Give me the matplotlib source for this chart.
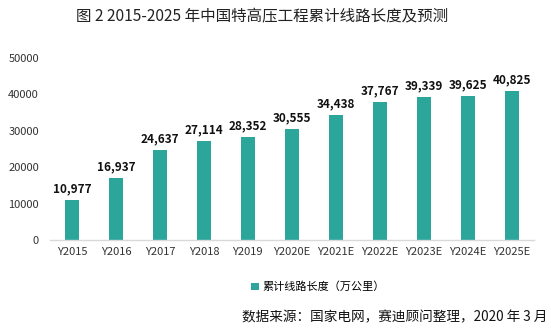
import matplotlib.pyplot as plt

plt.rcParams['font.family'] = ['Noto Sans CJK SC', 'DejaVu Sans']

years = ["Y2015", "Y2016", "Y2017", "Y2018", "Y2019", "Y2020E", "Y2021E",
         "Y2022E", "Y2023E", "Y2024E", "Y2025E"]
lengths = [10977, 16937, 24637, 27114, 28352, 30555, 34438, 37767, 39339, 39625, 40825]
yticks = [0, 10000, 20000, 30000, 40000, 50000]

BAR_COLOR = "#2ca59b"

fig = plt.figure(figsize=(5.51, 3.31), dpi=100)
ax = fig.add_axes([0.0907, 0.275, 0.878, 0.55])

x = range(len(years))
ax.bar(x, lengths, width=0.32, color=BAR_COLOR, label="累计线路长度（万公里）", zorder=2)
for xi, v in zip(x, lengths):
    ax.text(xi, v + 1300, f"{v:,}", ha="center", va="bottom",
            fontsize=8.5, fontweight="bold", color="#111111")

ax.set_xlim(-0.5, len(years) - 0.5)
ax.set_ylim(0, 50000)
ax.set_yticks(yticks)
ax.set_yticklabels([str(t) for t in yticks])
ax.set_xticks(list(x))
ax.set_xticklabels(years)
ax.tick_params(axis="both", length=0, labelsize=8, colors="#333333")
ax.tick_params(axis="x", pad=5)
ax.tick_params(axis="y", pad=8)
for side in ("top", "right", "left"):
    ax.spines[side].set_visible(False)
ax.spines["bottom"].set_color("#d9d9d9")
ax.spines["bottom"].set_linewidth(1.0)

fig.text(0.476, 0.948, "图 2 2015-2025 年中国特高压工程累计线路长度及预测",
         ha="center", va="center", fontsize=11.2, color="#222222")

fig.legend(loc="center", bbox_to_anchor=(0.577, 0.133), frameon=False,
           fontsize=8, handlelength=0.7, handleheight=0.7, handletextpad=0.3)

# source line, spread out like a full-width typeset note
fig.text(0.993, 0.04, "数据来源：国家电网，赛迪顾问整理，2020 年 3 月",
         ha="right", va="center", fontsize=9.8, color="#111111")

fig.savefig("out.png", dpi=100)
